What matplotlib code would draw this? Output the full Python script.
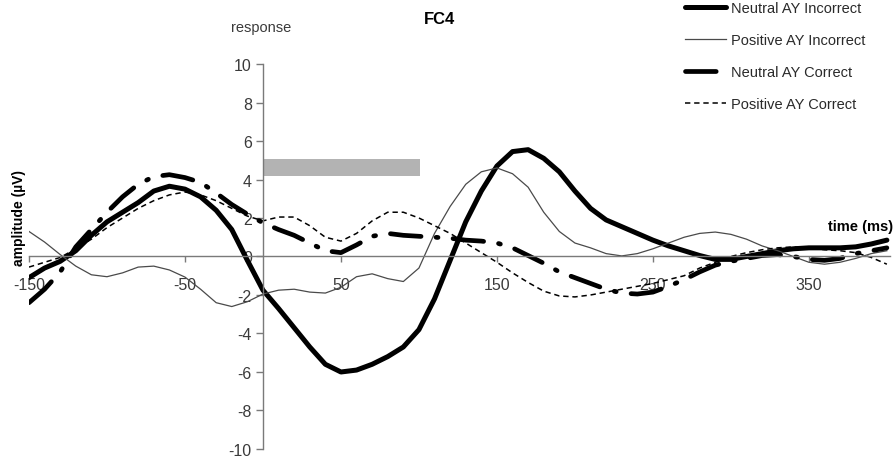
import matplotlib.pyplot as plt
from matplotlib.patches import Rectangle

plt.rcParams['font.family'] = ['Liberation Sans', 'DejaVu Sans']
plt.rcParams['axes.unicode_minus'] = False

# time axis (ms), one reading every 10 ms
time_ms = list(range(-150, 401, 10))

neutral_incorrect = [
    -1.1, -0.6, -0.25, 0.3, 1.1, 1.8, 2.3, 2.8, 3.4, 3.65,
    3.5, 3.1, 2.4, 1.4, -0.2, -1.75, -2.7, -3.7, -4.7, -5.6,
    -6.0, -5.9, -5.6, -5.2, -4.7, -3.8, -2.2, -0.2, 1.8, 3.4,
    4.7, 5.45, 5.55, 5.1, 4.4, 3.4, 2.5, 1.9, 1.55, 1.2,
    0.85, 0.55, 0.3, 0.05, -0.15, -0.15, 0.0, 0.15, 0.3, 0.4,
    0.45, 0.45, 0.45, 0.5, 0.65, 0.85,
]
positive_incorrect = [
    1.3, 0.75, 0.1, -0.5, -0.95, -1.05, -0.85, -0.55, -0.5, -0.7,
    -1.07, -1.7, -2.4, -2.6, -2.35, -1.95, -1.75, -1.7, -1.85, -1.9,
    -1.6, -1.05, -0.9, -1.15, -1.3, -0.6, 1.2, 2.6, 3.75, 4.4,
    4.6, 4.3, 3.6, 2.3, 1.3, 0.7, 0.45, 0.15, 0.03, 0.15,
    0.4, 0.7, 1.0, 1.2, 1.27, 1.15, 0.9, 0.55, 0.3, 0.0,
    -0.3, -0.4, -0.3, -0.1, 0.15, 0.3,
]
neutral_correct = [
    -2.4, -1.7, -0.8, 0.5, 1.4, 2.3, 3.1, 3.75, 4.15, 4.25,
    4.1, 3.85, 3.3, 2.7, 2.2, 1.75, 1.4, 1.1, 0.7, 0.3,
    0.2, 0.6, 1.05, 1.2, 1.1, 1.05, 1.0, 0.95, 0.85, 0.8,
    0.7, 0.45, 0.05, -0.35, -0.8, -1.1, -1.4, -1.7, -1.9, -1.95,
    -1.85, -1.55, -1.2, -0.8, -0.45, -0.25, -0.1, 0.05, 0.1, 0.0,
    -0.15, -0.2, -0.1, 0.15, 0.3, 0.45,
]
positive_correct = [
    -0.55, -0.3, -0.05, 0.4, 0.9, 1.5, 2.0, 2.5, 2.9, 3.2,
    3.35, 3.2, 2.9, 2.5, 2.1, 1.85, 2.05, 2.05, 1.6, 1.0,
    0.8, 1.2, 1.85, 2.3, 2.3, 2.0, 1.6, 1.2, 0.7, 0.2,
    -0.3, -0.85, -1.35, -1.8, -2.05, -2.1, -2.0, -1.85, -1.7, -1.55,
    -1.4, -1.2, -1.0, -0.6, -0.3, 0.0, 0.2, 0.35, 0.45, 0.5,
    0.45, 0.35, 0.3, 0.2, -0.05, -0.4,
]

# shaded analysis window
window_start, window_end = 0, 101
window_low, window_high = 4.2, 5.05

x_ticks = [-150, -50, 50, 150, 250, 350]
y_ticks = list(range(-10, 11, 2))

fig = plt.figure(figsize=(8.95, 4.64), dpi=100)
ax = fig.add_axes([0.0324, 0.0302, 0.962, 0.8297])

ax.add_patch(Rectangle((window_start, window_low), window_end - window_start,
                       window_high - window_low, color='#b3b3b3', lw=0))

ax.plot(time_ms, neutral_incorrect, color='black', lw=3.6,
        solid_capstyle='round', solid_joinstyle='round',
        label='Neutral AY Incorrect')
ax.plot(time_ms, positive_incorrect, color='#4a4a4a', lw=0.9,
        solid_joinstyle='round', label='Positive AY Incorrect')
ax.plot(time_ms, neutral_correct, color='black', lw=3.4,
        dashes=(6.5, 3.2, 0.4, 3.2), dash_capstyle='round',
        dash_joinstyle='round', label='Neutral AY Correct')
ax.plot(time_ms, positive_correct, color='black', lw=1.1,
        dashes=(3.5, 2.5), label='Positive AY Correct')

ax.set_xlim(-150, 402)
ax.set_ylim(-10, 10)

for side in ['top', 'right']:
    ax.spines[side].set_visible(False)
ax.spines['left'].set_position(('data', 0))
ax.spines['bottom'].set_position(('data', 0))
for side in ['left', 'bottom']:
    ax.spines[side].set_color('#7a7a7a')
    ax.spines[side].set_linewidth(1.0)

ax.set_xticks(x_ticks)
ax.set_xticklabels([str(t) for t in x_ticks])
ax.set_yticks(y_ticks)
ax.tick_params(axis='x', direction='out', length=4, width=1.0,
               color='#7a7a7a', pad=11, labelsize=11.5, labelcolor='#3a3a3a')
ax.tick_params(axis='y', direction='out', length=5, width=1.0,
               color='#7a7a7a', pad=3, labelsize=11.5, labelcolor='#3a3a3a')

fig.text(440 / 895, 1 - 19 / 464, 'FC4', ha='center', va='center',
         fontsize=12, fontweight='bold')
fig.text(261 / 895, 1 - 28 / 464, 'response', ha='center', va='center',
         fontsize=10.5, color='#3a3a3a')
fig.text(19 / 895, 1 - 218 / 464, 'amplitude (µV)', rotation=90,
         ha='center', va='center', fontsize=10, fontweight='bold')
fig.text(893 / 895, 1 - 227 / 464, 'time (ms)', ha='right', va='center',
         fontsize=10.5, fontweight='bold')

fig.legend(loc='upper left', bbox_to_anchor=(683 / 895, 1.0),
           frameon=False, fontsize=10.5, handlelength=2.85,
           handletextpad=0.3, labelspacing=1.25, borderpad=0.12,
           borderaxespad=0, labelcolor='#2a2a2a')

fig.savefig('out.png', dpi=100)
